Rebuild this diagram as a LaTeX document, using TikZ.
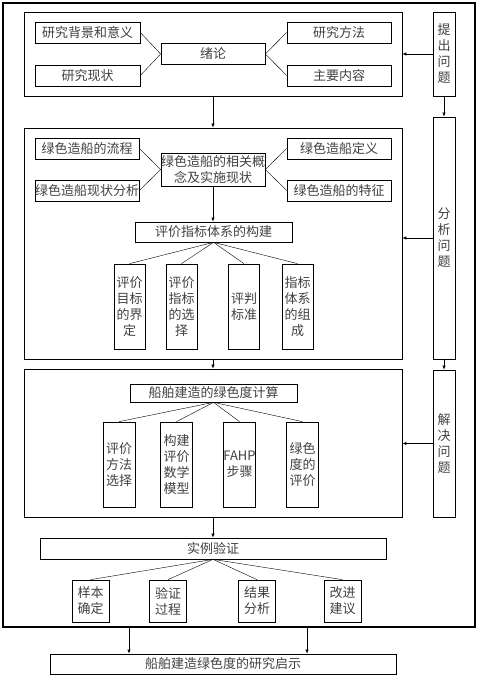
\documentclass[tikz,border=0pt]{standalone}
\usepackage{fontspec}
\newfontfamily\cjk{Noto Sans CJK SC}
\usetikzlibrary{arrows.meta}

\begin{document}
\begin{tikzpicture}[x=1pt,y=-1pt,
  box/.style={draw,line width=0.7pt,inner sep=0pt,align=center,text=black!75,
    font=\cjk\fontsize{13}{16}\selectfont},
  frame/.style={draw,line width=0.8pt,inner sep=0pt},
  arr/.style={-{Latex[length=4pt,width=3.5pt]},line width=0.7pt}]
\useasboundingbox (0,0) rectangle (479,676);

% Outer frame
\node[frame,line width=1.3pt,minimum width=472pt,minimum height=624pt] (outer) at (239,315) {};

% Frames of the three parts
\node[frame,minimum width=378pt,minimum height=84pt] (sec1) at (213,54) {};
\node[frame,minimum width=378pt,minimum height=231pt] (sec2) at (213,243.5) {};
\node[frame,minimum width=378pt,minimum height=148pt] (sec3) at (213,443) {};

% Side boxes
\node[box,minimum width=22pt,minimum height=84pt] (s1) at (444,54) {提\\出\\问\\题};
\node[box,minimum width=22pt,minimum height=242pt] (s2) at (444,238) {分\\析\\问\\题};
\node[box,minimum width=22pt,minimum height=147pt] (s3) at (444,443.5) {解\\决\\问\\题};
\draw[arr] (s1.west) -- (s1.west -| sec1.east);
\draw[arr] (s2.west) -- (s2.west -| sec2.east);
\draw[arr] (s3.west) -- (s3.west -| sec3.east);
\draw[arr] (s1.south) -- (s2.north);
\draw[arr] (s2.south) -- (s3.north);

% Part 1
\node[box,minimum width=105pt,minimum height=21pt] (r1) at (87.5,32.5) {研究背景和意义};
\node[box,minimum width=105pt,minimum height=21pt] (r2) at (87.5,75.5) {研究现状};
\node[box,minimum width=104pt,minimum height=21pt] (lun) at (213,54) {绪论};
\node[box,minimum width=104pt,minimum height=21pt] (r3) at (339,32.5) {研究方法};
\node[box,minimum width=104pt,minimum height=21pt] (r4) at (339,75.5) {主要内容};
\draw (r1.east) -- (lun.west) -- (r2.east);
\draw (r3.west) -- (lun.east) -- (r4.west);
\draw[arr] (sec1.south) -- (sec2.north);

% Part 2
\node[box,minimum width=104pt,minimum height=21pt] (g1) at (87,148.5) {绿色造船的流程};
\node[box,minimum width=104pt,minimum height=21pt] (g2) at (87,190.5) {绿色造船现状分析};
\node[box,minimum width=104pt,minimum height=33pt] (gc) at (213,169.5) {绿色造船的相关概\\念及实施现状};
\node[box,minimum width=104pt,minimum height=21pt] (g3) at (339,148.5) {绿色造船定义};
\node[box,minimum width=104pt,minimum height=21pt] (g4) at (339,190.5) {绿色造船的特征};
\draw (g1.east) -- (gc.west) -- (g2.east);
\draw (g3.west) -- (gc.east) -- (g4.west);
\node[box,minimum width=157pt,minimum height=20pt] (pj) at (213.5,232) {评价指标体系的构建};
\draw[arr] (gc.south) -- (gc.south |- pj.north);
\node[box,minimum width=31pt,minimum height=85pt] (v1) at (129.5,306.5) {评价\\目标\\的界\\定};
\node[box,minimum width=31pt,minimum height=85pt] (v2) at (181.5,306.5) {评价\\指标\\的选\\择};
\node[box,minimum width=31pt,minimum height=85pt] (v3) at (244,306.5) {评判\\标准};
\node[box,minimum width=31pt,minimum height=85pt] (v4) at (297.5,306.5) {指标\\体系\\的组\\成};
\foreach \v in {v1,v2,v3,v4}
  \draw (pj.south) -- (\v.north);
\draw[arr] (sec2.south) -- (sec3.north);

% Part 3
\node[box,minimum width=167pt,minimum height=18pt] (js) at (213.5,393) {船舶建造的绿色度计算};
\node[box,minimum width=32pt,minimum height=85pt] (c1) at (119,464.5) {评价\\方法\\选择};
\node[box,minimum width=32pt,minimum height=85pt] (c2) at (176.5,464.5) {构建\\评价\\数学\\模型};
\node[box,minimum width=32pt,minimum height=85pt] (c3) at (239.5,464.5) {FAHP\\步骤};
\node[box,minimum width=32pt,minimum height=85pt] (c4) at (302.5,464.5) {绿色\\度的\\评价};
\foreach \c in {c1,c2,c3,c4}
  \draw (js.south) -- (\c.north);

% Case study
\node[box,minimum width=346pt,minimum height=21pt] (sl) at (213,548.5) {实例验证};
\draw[arr] (sec3.south) -- (sl.north);
\node[box,minimum width=37pt,minimum height=42pt] (e1) at (90.5,601) {样本\\确定};
\node[box,minimum width=37pt,minimum height=42pt] (e2) at (168,601) {验证\\过程};
\node[box,minimum width=37pt,minimum height=42pt] (e3) at (257,601) {结果\\分析};
\node[box,minimum width=37pt,minimum height=42pt] (e4) at (342.5,601) {改进\\建议};
\foreach \e in {e1,e2,e3,e4}
  \draw (sl.south) -- (\e.north);

% Result
\node[box,minimum width=346pt,minimum height=20pt] (qs) at (223,664) {船舶建造绿色度的研究启示};
\coordinate (o1) at (129,627);
\coordinate (o2) at (307,627);
\draw[arr] (o1) -- (o1 |- qs.north);
\draw[arr] (o2) -- (o2 |- qs.north);
\end{tikzpicture}
\end{document}
